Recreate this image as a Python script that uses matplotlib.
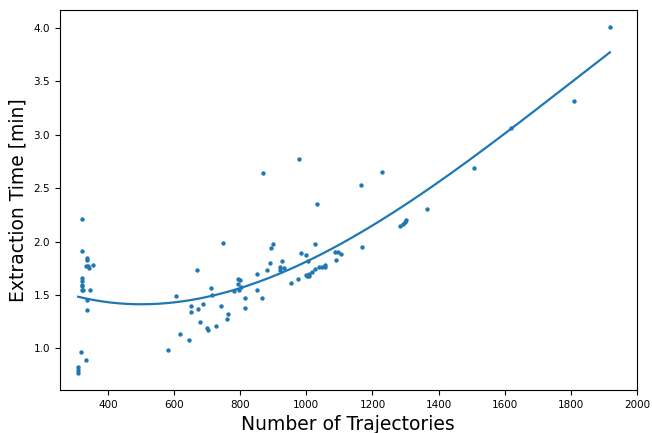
"""Extraction time against trajectory count, with a polynomial trend."""

import numpy as np
import matplotlib
matplotlib.use("Agg")
import matplotlib.pyplot as plt

# number of trajectories per run
n_traj = [
    310, 310, 310, 317, 334, 322, 322, 337, 337, 334, 340, 342, 355,
    322, 322, 322, 322, 321, 323, 345, 337, 337,
    582, 607, 617, 644, 651, 651, 668, 673, 677, 688, 699, 701, 713, 716,
    727, 742, 747, 761, 763, 781, 793, 794, 796, 800, 801, 813, 814, 850,
    852, 865, 870, 880, 891, 893, 898, 920, 920, 926, 933, 952, 976, 978,
    985, 999, 1000, 1003, 1005, 1007, 1009, 1016, 1026, 1027, 1033, 1039,
    1047, 1056, 1056, 1087, 1090, 1096, 1104, 1164, 1168, 1228, 1282, 1291,
    1297, 1300, 1366, 1507, 1618, 1810, 1918,
]
# extraction time in minutes
t_extract = [
    0.82, 0.80, 0.77, 0.96, 0.89, 2.21, 1.91, 1.845, 1.83, 1.77, 1.77, 1.75, 1.78,
    1.66, 1.63, 1.59, 1.58, 1.55, 1.545, 1.55, 1.455, 1.36,
    0.98, 1.49, 1.135, 1.08, 1.40, 1.34, 1.735, 1.37, 1.245, 1.41, 1.19, 1.166, 1.56, 1.495,
    1.207, 1.40, 1.99, 1.27, 1.316, 1.535, 1.648, 1.60, 1.55, 1.636, 1.57, 1.376, 1.467, 1.695,
    1.55, 1.47, 2.64, 1.736, 1.795, 1.94, 1.974, 1.76, 1.735, 1.817, 1.75, 1.61, 1.645, 2.77,
    1.89, 1.686, 1.873, 1.68, 1.814, 1.676, 1.70, 1.71, 1.974, 1.745, 2.356, 1.76,
    1.76, 1.783, 1.76, 1.90, 1.83, 1.90, 1.886, 2.53, 1.95, 2.653, 2.15, 2.16,
    2.18, 2.20, 2.30, 2.685, 3.066, 3.32, 4.008,
]

x = np.array(n_traj, dtype=float)
y = np.array(t_extract)

coef = np.polyfit(x, y, 3)
xs = np.linspace(x.min(), x.max(), 200)

fig = plt.figure(figsize=(6.52, 4.33), dpi=100)
ax = fig.add_axes([0.0916, 0.0993, 0.8854, 0.8776])
ax.scatter(x, y, s=10, color="#1f77b4", linewidths=0)
ax.plot(xs, np.polyval(coef, xs), color="#1f77b4", lw=1.6)

ax.set_xlim(254, 2000)
ax.set_xlabel("Number of Trajectories", fontsize=13.5)
ax.set_ylabel("Extraction Time [min]", fontsize=13.5)
ax.tick_params(labelsize=7.5)
ax.set_xticks([400, 600, 800, 1000, 1200, 1400, 1600, 1800, 2000])

fig.savefig("out.png", dpi=100)
